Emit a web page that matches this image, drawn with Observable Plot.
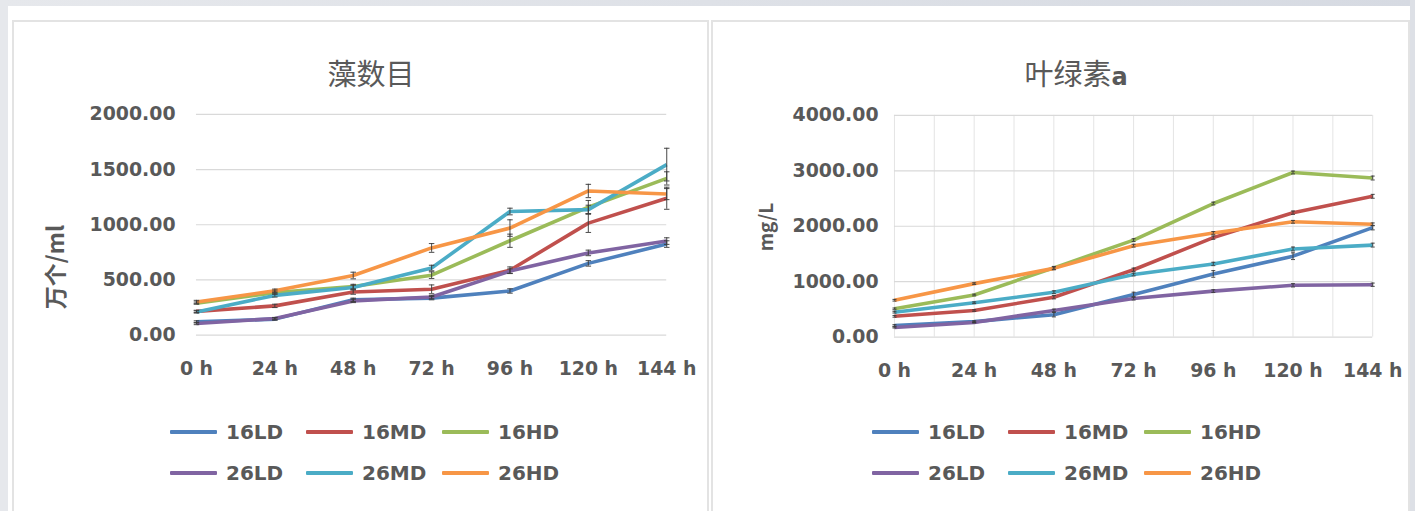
<!DOCTYPE html>
<html>
<head>
<meta charset="utf-8">
<script src="https://cdn.jsdelivr.net/npm/d3@7"></script>
<script src="https://cdn.jsdelivr.net/npm/@observablehq/plot@0.6"></script>
<style>
  html, body { margin: 0; padding: 0; }
  body { width: 1415px; height: 511px; overflow: hidden; background: #ffffff; position: relative; font-family: "DejaVu Sans", sans-serif; }
  .strip-top { position: absolute; left: 0; top: 0; width: 1415px; height: 6px; background: linear-gradient(90deg, #e6e8ec, #d6dae2); }
  .strip-left { position: absolute; left: 0; top: 0; width: 8px; height: 511px; background: #e6e8ec; }
  .strip-right { position: absolute; right: 0; top: 0; width: 5px; height: 511px; background: #dde0e6; }
  .panel { position: absolute; top: 20px; height: 500px; border: 2px solid #e3e3e3; box-sizing: border-box; background: #fff; }
  .title { position: absolute; top: 30px; transform: translateX(-50%); font-family: "Noto Sans CJK SC", sans-serif; font-size: 29px; color: #595959; white-space: nowrap; line-height: 40px; }
  .ylab { position: absolute; transform: translate(-50%, -50%) rotate(-90deg); font-family: "Noto Sans CJK SC", "DejaVu Sans", sans-serif; color: #595959; white-space: nowrap; font-weight: bold; }
  .chart { position: absolute; top: 75px; left: 0; }
  .legend { position: absolute; font-family: "DejaVu Sans", sans-serif; font-weight: bold; font-size: 20px; color: #595959; }
  .item { position: absolute; display: flex; align-items: center; white-space: nowrap; transform: translateY(-50%); }
  .sw { display: inline-block; width: 47px; height: 4px; margin-right: 9px; border-radius: 1px; }
</style>
</head>
<body>
<div class="strip-top"></div>
<div class="strip-left"></div>
<div class="strip-right"></div>
<div id="left" class="panel" style="left:12px; width:697px;"></div>
<div id="right" class="panel" style="left:711px; width:699px;"></div>
<script>
// ---------- data ----------
const times = ["0 h", "24 h", "48 h", "72 h", "96 h", "120 h", "144 h"];
const series = ["16LD", "16MD", "16HD", "26LD", "26MD", "26HD"];
const colors = ["#4F81BD", "#C0504D", "#9BBB59", "#8064A2", "#4BACC6", "#F79646"];

// 藻数目 (万个/ml)
const algae16LD = [120, 145, 320, 335, 400, 650, 825];
const algae16MD = [215, 265, 390, 415, 588, 1015, 1240];
const algae16HD = [290, 385, 440, 543, 855, 1160, 1420];
const algae26LD = [105, 150, 310, 345, 580, 745, 852];
const algae26MD = [210, 360, 432, 608, 1120, 1137, 1545];
const algae26HD = [300, 402, 540, 790, 970, 1306, 1278];
const algaeErr16LD = [10, 10, 15, 15, 20, 25, 30];
const algaeErr16MD = [10, 15, 20, 40, 30, 85, 100];
const algaeErr16HD = [10, 15, 20, 30, 60, 60, 60];
const algaeErr26LD = [10, 10, 15, 15, 20, 25, 30];
const algaeErr26MD = [10, 15, 20, 25, 30, 40, 148];
const algaeErr26HD = [15, 15, 30, 40, 75, 60, 50];

// 叶绿素a (mg/L)
const chl16LD = [210, 280, 405, 770, 1140, 1460, 1975];
const chl16MD = [375, 480, 720, 1215, 1795, 2245, 2540];
const chl16HD = [510, 760, 1250, 1750, 2410, 2970, 2870];
const chl26LD = [175, 265, 480, 695, 830, 935, 945];
const chl26MD = [450, 620, 810, 1130, 1320, 1590, 1660];
const chl26HD = [665, 965, 1240, 1650, 1880, 2080, 2035];
const chlErr16LD = [15, 15, 40, 40, 60, 60, 40];
const chlErr16MD = [15, 15, 30, 30, 30, 30, 35];
const chlErr16HD = [15, 15, 25, 25, 25, 25, 35];
const chlErr26LD = [10, 10, 25, 25, 25, 30, 30];
const chlErr26MD = [15, 15, 25, 25, 30, 35, 35];
const chlErr26HD = [15, 15, 25, 25, 25, 25, 25];

const yTicksAlgae = [0, 500, 1000, 1500, 2000];
const yTicksChl = [0, 1000, 2000, 3000, 4000];

function toRows(valueLists, errLists) {
  return series.flatMap((s, si) => valueLists[si].map((v, i) => ({s, i, v, e: errLists[si][i]})));
}

function makeChart(opts) {
  const rows = toRows(opts.values, opts.errors);
  const marks = [];
  if (opts.vgrid) {
    marks.push(Plot.ruleX(d3.range(0, times.length - 0.5, 0.5), {stroke: "#e4e4e4", strokeWidth: 1}));
  }
  marks.push(Plot.ruleY(opts.yTicks, {stroke: "#d9d9d9", strokeWidth: 1.2}));
  marks.push(Plot.line(rows, {x: "i", y: "v", z: "s", stroke: "s", strokeWidth: 3.6, strokeLinejoin: "round", strokeLinecap: "butt"}));
  const cw = opts.capW;
  marks.push(Plot.ruleX(rows, {x: "i", y1: d => d.v - d.e, y2: d => d.v + d.e, stroke: "#3a3a3a", strokeWidth: 1.1, strokeOpacity: 0.85}));
  marks.push(Plot.link(rows, {x1: d => d.i - cw, x2: d => d.i + cw, y1: d => d.v + d.e, y2: d => d.v + d.e, stroke: "#3a3a3a", strokeWidth: 1.1, strokeOpacity: 0.85}));
  marks.push(Plot.link(rows, {x1: d => d.i - cw, x2: d => d.i + cw, y1: d => d.v - d.e, y2: d => d.v - d.e, stroke: "#3a3a3a", strokeWidth: 1.1, strokeOpacity: 0.85}));
  return Plot.plot({
    width: opts.width,
    height: 300,
    marginTop: opts.marginTop,
    marginBottom: opts.marginBottom,
    marginLeft: opts.marginLeft,
    marginRight: opts.marginRight,
    style: {fontFamily: "DejaVu Sans", fontWeight: "bold", fontSize: "19px", color: "#595959", background: "transparent", overflow: "visible"},
    x: {domain: [0, times.length - 1], ticks: d3.range(times.length), tickFormat: i => times[i], tickSize: 0, tickPadding: 27, label: null},
    y: {domain: [opts.yTicks[0], opts.yTicks[opts.yTicks.length - 1]], ticks: opts.yTicks, tickFormat: d3.format(".2f"), tickSize: 0, tickPadding: opts.yPad, label: null},
    color: {domain: series, range: colors},
    marks
  });
}

function buildPanel(id, cfg) {
  const panel = document.getElementById(id);
  const title = document.createElement("div");
  title.className = "title";
  title.style.left = cfg.titleX + "px";
  title.innerHTML = cfg.title;
  panel.appendChild(title);

  const ylab = document.createElement("div");
  ylab.className = "ylab";
  ylab.style.left = cfg.ylabX + "px";
  ylab.style.top = cfg.ylabY + "px";
  ylab.style.fontSize = cfg.ylabSize + "px";
  ylab.textContent = cfg.ylab;
  panel.appendChild(ylab);

  const holder = document.createElement("div");
  holder.className = "chart";
  holder.appendChild(makeChart(cfg.chart));
  panel.appendChild(holder);

  const legend = document.createElement("div");
  legend.className = "legend";
  legend.style.left = "0px";
  legend.style.top = "0px";
  series.forEach((s, k) => {
    const it = document.createElement("div");
    it.className = "item";
    it.style.left = (cfg.legendX + (k % 3) * 136) + "px";
    it.style.top = (k < 3 ? 410 : 451) + "px";
    const sw = document.createElement("span");
    sw.className = "sw";
    sw.style.background = colors[k];
    it.appendChild(sw);
    it.appendChild(document.createTextNode(s));
    legend.appendChild(it);
  });
  panel.appendChild(legend);
}

buildPanel("left", {
  title: "藻数目",
  titleX: 357,
  ylab: "万个/ml",
  ylabX: 40,
  ylabY: 245,
  ylabSize: 23,
  legendX: 156,
  chart: {
    width: 697,
    values: [algae16LD, algae16MD, algae16HD, algae26LD, algae26MD, algae26HD],
    errors: [algaeErr16LD, algaeErr16MD, algaeErr16HD, algaeErr26LD, algaeErr26MD, algaeErr26HD],
    yTicks: yTicksAlgae,
    capW: 0.035,
    marginTop: 17, marginBottom: 61, marginLeft: 183, marginRight: 41, yPad: 21
  }
});

buildPanel("right", {
  title: "叶绿素<span style=\"font-family:'DejaVu Sans';font-weight:bold;font-size:24px\">a</span>",
  titleX: 363,
  ylab: "mg/L",
  ylabX: 51,
  ylabY: 205,
  ylabSize: 19,
  legendX: 159,
  chart: {
    width: 699,
    vgrid: true,
    values: [chl16LD, chl16MD, chl16HD, chl26LD, chl26MD, chl26HD],
    errors: [chlErr16LD, chlErr16MD, chlErr16HD, chlErr26LD, chlErr26MD, chlErr26HD],
    yTicks: yTicksChl,
    capW: 0.025,
    marginTop: 18, marginBottom: 59, marginLeft: 182, marginRight: 36, yPad: 16
  }
});
</script>
</body>
</html>
